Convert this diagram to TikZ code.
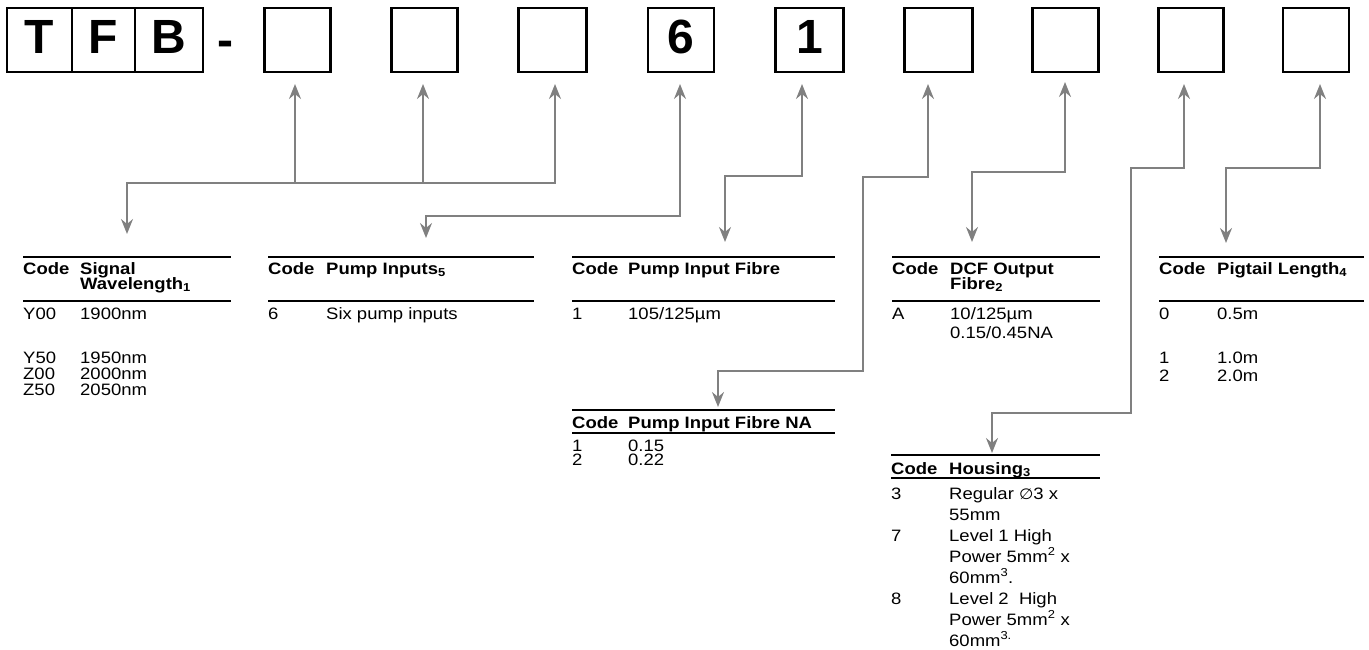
\documentclass[tikz,border=0pt]{standalone}
\usepackage{fontspec}
\setmainfont{Liberation Sans}[FakeStretch=1.12]
\newfontfamily\bigf{Liberation Sans}
\newfontfamily\djv{DejaVu Sans}[FakeStretch=1.1]
\usetikzlibrary{arrows.meta}
\definecolor{conngray}{RGB}{128,128,128}
\begin{document}
\begin{tikzpicture}[x=1pt,y=-1pt,
  >={Stealth[length=15pt,width=12pt,inset=5pt]},
  lbox/.style={draw, line width=2.6pt, minimum width=66pt, minimum height=64pt, inner sep=0pt,
    text height=35pt, text depth=8.4pt, font=\bigf\fontsize{48}{48}\selectfont\bfseries},
  tx/.style={anchor=base west, inner sep=0pt, font=\fontsize{16.5}{16.5}\selectfont},
  hd/.style={anchor=base west, inner sep=0pt, font=\fontsize{16.5}{16.5}\selectfont\bfseries},
  rulel/.style={line width=2pt},
  conn/.style={draw=conngray, line width=2pt}]
\useasboundingbox (0,0) rectangle (1369,650);

% ---- code boxes ----
\node[lbox, minimum width=65pt] (bT) at (39.5,40) {T};
\node[lbox, minimum width=63pt] (bF) at (103.5,40) {F};
\node[lbox, minimum width=68pt] (bB) at (169,40) {B};
\node[anchor=base, inner sep=0pt, font=\bigf\fontsize{48}{48}\selectfont\bfseries] (dash) at (225,57) {-};
\node[lbox] (b1) at (297.5,40) {};
\node[lbox] (b2) at (424.5,40) {};
\node[lbox, minimum width=68pt] (b3) at (552.5,40) {};
\node[lbox] (b4) at (681,40) {6};
\node[lbox, minimum width=68pt] (b5) at (809.5,40) {1};
\node[lbox, minimum width=68pt] (b6) at (938.5,40) {};
\node[lbox] (b7) at (1065.5,40) {};
\node[lbox, minimum width=65pt] (b8) at (1191,40) {};
\node[lbox] (b9) at (1316,40) {};

% ---- connector end points ----
\coordinate (u1) at (295,84);
\coordinate (u2) at (423,84);
\coordinate (u3) at (555,84);
\coordinate (u4) at (680,84);
\coordinate (u5) at (802,84);
\coordinate (u6) at (928,84);
\coordinate (u7) at (1065,82);
\coordinate (u8) at (1184,84);
\coordinate (u9) at (1320,84);
\coordinate (k1) at (127,183);
\coordinate (k2) at (426,216);
\coordinate (k3) at (725,176);
\coordinate (k4) at (863,177);
\coordinate (k4b) at (718,371);
\coordinate (k5) at (972,172);
\coordinate (k6) at (1131,168);
\coordinate (k6b) at (992,413);
\coordinate (k7) at (1226,168);
\coordinate (d1) at (127,234);
\coordinate (d2) at (426,238);
\coordinate (d3) at (725,242);
\coordinate (d4) at (718,407);
\coordinate (d5) at (972,242);
\coordinate (d6) at (992,453);
\coordinate (d7) at (1226,243);

% ---- connectors ----
\draw[conn, <->] (u3) |- (k1) -- (d1);
\draw[conn, <-] (u1) -- (u1 |- k1);
\draw[conn, <-] (u2) -- (u2 |- k1);
\draw[conn, <->] (u4) |- (k2) -- (d2);
\draw[conn, <->] (u5) |- (k3) -- (d3);
\draw[conn, <->] (u6) |- (k4) |- (k4b) -- (d4);
\draw[conn, <->] (u7) |- (k5) -- (d5);
\draw[conn, <->] (u8) |- (k6) |- (k6b) -- (d6);
\draw[conn, <->] (u9) |- (k7) -- (d7);

% ---- table 1: signal wavelength ----
\draw[rulel] (23,257) -- (231,257);
\draw[rulel] (23,301) -- (231,301);
\node[hd] (t1c) at (23,274) {Code};
\node[hd] (t1h) at (80,274) {Signal};
\node[hd] (t1h2) at (80,289) {Wavelength\textsubscript{1}};
\node[tx] (t1r1c) at (23,319) {Y00};  \node[tx] (t1r1) at (80,319) {1900nm};
\node[tx] (t1r2c) at (23,363) {Y50};  \node[tx] (t1r2) at (80,363) {1950nm};
\node[tx] (t1r3c) at (23,379) {Z00};  \node[tx] (t1r3) at (80,379) {2000nm};
\node[tx] (t1r4c) at (23,395) {Z50};  \node[tx] (t1r4) at (80,395) {2050nm};

% ---- table 2: pump inputs ----
\draw[rulel] (268,257) -- (534,257);
\draw[rulel] (268,301) -- (534,301);
\node[hd] (t2c) at (268,274) {Code};
\node[hd] (t2h) at (326,274) {Pump Inputs\textsubscript{5}};
\node[tx] (t2r1c) at (268,319) {6}; \node[tx] (t2r1) at (326,319) {Six pump inputs};

% ---- table 3: pump input fibre ----
\draw[rulel] (572,257) -- (835,257);
\draw[rulel] (572,301) -- (835,301);
\node[hd] (t3c) at (572,274) {Code};
\node[hd] (t3h) at (628,274) {Pump Input Fibre};
\node[tx] (t3r1c) at (572,319) {1}; \node[tx] (t3r1) at (628,319) {105/125µm};

% ---- table 3b: pump input fibre NA ----
\draw[rulel] (572,410) -- (835,410);
\draw[rulel] (572,433) -- (835,433);
\node[hd] (t4c) at (572,428) {Code};
\node[hd] (t4h) at (628,428) {Pump Input Fibre NA};
\node[tx] (t4r1c) at (572,451) {1}; \node[tx] (t4r1) at (628,451) {0.15};
\node[tx] (t4r2c) at (572,465.5) {2}; \node[tx] (t4r2) at (628,465.5) {0.22};

% ---- table 4: DCF output fibre ----
\draw[rulel] (892,257) -- (1100,257);
\draw[rulel] (892,301) -- (1100,301);
\node[hd] (t5c) at (892,274) {Code};
\node[hd] (t5h) at (950,274) {DCF Output};
\node[hd] (t5h2) at (950,289) {Fibre\textsubscript{2}};
\node[tx] (t5r1c) at (892,319) {A}; \node[tx] (t5r1) at (950,319) {10/125µm};
\node[tx] (t5r1b) at (950,338.5) {0.15/0.45NA};

% ---- table 5: pigtail length ----
\draw[rulel] (1159,257) -- (1364,257);
\draw[rulel] (1159,301) -- (1364,301);
\node[hd] (t6c) at (1159,274) {Code};
\node[hd] (t6h) at (1217,274) {Pigtail Length\textsubscript{4}};
\node[tx] (t6r1c) at (1159,319) {0}; \node[tx] (t6r1) at (1217,319) {0.5m};
\node[tx] (t6r2c) at (1159,363) {1}; \node[tx] (t6r2) at (1217,363) {1.0m};
\node[tx] (t6r3c) at (1159,381) {2}; \node[tx] (t6r3) at (1217,381) {2.0m};

% ---- table 6: housing ----
\draw[rulel] (891,455) -- (1100,455);
\draw[rulel] (891,478) -- (1100,478);
\node[hd] (t7c) at (891,474) {Code};
\node[hd] (t7h) at (949,474) {Housing\textsubscript{3}};
\node[tx] (t7r1c) at (891,499) {3}; \node[tx] (t7r1) at (949,499) {Regular {\djv\fontsize{15}{15}\selectfont ∅}3 x};
\node[tx] (t7r1b) at (949,520) {55mm};
\node[tx] (t7r2c) at (891,541) {7}; \node[tx] (t7r2) at (949,541) {Level 1 High};
\node[tx] (t7r2b) at (949,562) {Power 5mm\textsuperscript{2} x};
\node[tx] (t7r2d) at (949,583) {60mm\textsuperscript{3}.};
\node[tx] (t7r3c) at (891,604) {8}; \node[tx] (t7r3) at (949,604) {Level 2 \ High};
\node[tx] (t7r3b) at (949,625) {Power 5mm\textsuperscript{2} x};
\node[tx] (t7r3d) at (949,646) {60mm\textsuperscript{3.}};
\end{tikzpicture}
\end{document}
